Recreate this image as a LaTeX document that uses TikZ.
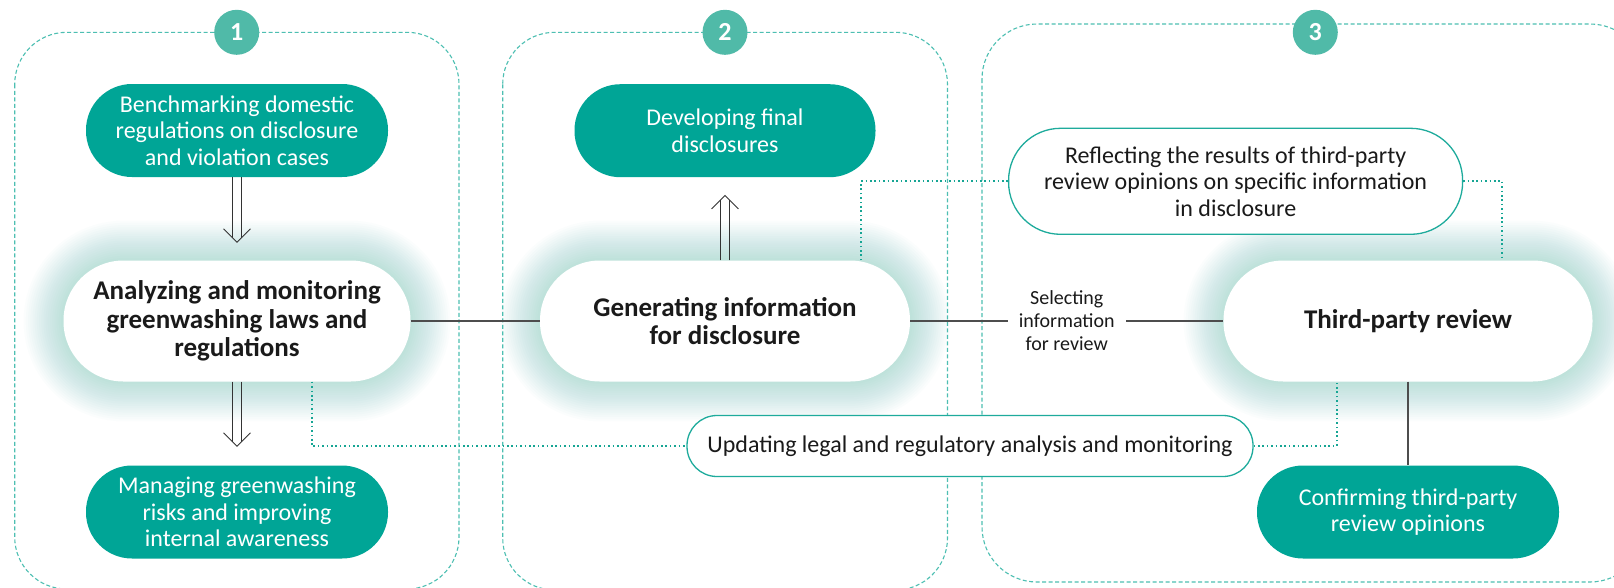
\documentclass[tikz,border=0pt]{standalone}
\usepackage{fontspec}
\setmainfont{Carlito}
\usetikzlibrary{calc}
\definecolor{tealc}{HTML}{00A596}
\definecolor{badgec}{HTML}{50BAA8}
\definecolor{panelc}{HTML}{4DBFB2}
\definecolor{outc}{HTML}{1EAB9C}
\definecolor{dotc}{HTML}{16A594}
\definecolor{glowc}{HTML}{1AAA9A}
\definecolor{linec}{HTML}{4D4D4D}
\definecolor{txt}{HTML}{1A1A1A}
\pgfdeclarelayer{bg}
\pgfdeclarelayer{glowlayer}
\pgfsetlayers{bg,glowlayer,main}
\tikzset{
  panel/.style={draw=panelc, dash pattern=on 4pt off 2.5pt, line width=1.1pt, rounded corners=52pt},
  badge/.style={circle, fill=badgec, minimum size=45pt, inner sep=0pt, text=white, font=\bfseries\fontsize{26}{26}\selectfont},
  tealbox/.style={fill=tealc, text=white, rounded corners=46pt, minimum width=302pt, minimum height=93pt, align=center, inner sep=0pt, font=\fontsize{24}{26.3}\selectfont},
  mainbox/.style={fill=white, rounded corners=60pt, minimum height=121pt, align=center, inner sep=0pt, text=txt, font=\bfseries\fontsize{27}{28.5}\selectfont},
  outbox/.style={draw=outc, line width=1.3pt, fill=white, align=center, inner sep=0pt, text=txt, font=\fontsize{24}{26.5}\selectfont},
  conn/.style={draw=linec, line width=1.2pt},
  dotline/.style={draw=dotc, line width=1.8pt, dash pattern=on 1.6pt off 2.8pt},
  dblline/.style={draw=black!80, line width=0.9pt},
  lbl/.style={fill=white, align=center, inner xsep=11pt, inner ysep=2pt, text=txt, font=\fontsize{20}{23}\selectfont}
}
\newcommand{\glowaround}[2]{%
  \begin{pgfonlayer}{glowlayer}
  \foreach \i in {1,...,18}{
    \pgfmathsetmacro{\rr}{#2+\i*2.2}
    \pgfmathsetmacro{\dd}{\i*2.2}
    \fill[glowc, opacity=0.017, rounded corners=\rr pt, yshift=-4pt]
      ([shift={(-\dd pt,-\dd pt)}]#1.south west) rectangle ([shift={(\dd pt,\dd pt)}]#1.north east);
  }
  \end{pgfonlayer}}
\newcommand{\dbldown}[2]{%
  \draw[dblline] ([xshift=-4.6pt]#1) -- ([xshift=-4.6pt,yshift=4.6pt]#2);
  \draw[dblline] ([xshift=4.6pt]#1) -- ([xshift=4.6pt,yshift=4.6pt]#2);
  \draw[dblline] ([xshift=-13.5pt,yshift=13.5pt]#2) -- (#2) -- ([xshift=13.5pt,yshift=13.5pt]#2);}
\newcommand{\dblup}[2]{%
  \draw[dblline] ([xshift=-4.6pt]#1) -- ([xshift=-4.6pt,yshift=-4.6pt]#2);
  \draw[dblline] ([xshift=4.6pt]#1) -- ([xshift=4.6pt,yshift=-4.6pt]#2);
  \draw[dblline] ([xshift=-13.5pt,yshift=-13.5pt]#2) -- (#2) -- ([xshift=13.5pt,yshift=-13.5pt]#2);}
\begin{document}
\begin{tikzpicture}[x=1pt,y=-1pt]
\useasboundingbox (0,0) rectangle (1614,587);
% panels
\begin{pgfonlayer}{bg}
\fill[white] (0,0) rectangle (1614,587);
\draw[panel] (14.7,32.3) rectangle (459,589);
\draw[panel] (502.7,32.3) rectangle (947.5,590);
\draw[panel, rounded corners=55pt] (982,24) rectangle (1645,582);
\end{pgfonlayer}
% nodes
\node[tealbox] (bench) at (237,130.5) {Benchmarking domestic\\regulations on disclosure\\and violation cases};
\node[mainbox, minimum width=347pt] (ana) at (237,321) {Analyzing and monitoring\\greenwashing laws and\\regulations};
\node[tealbox] (manage) at (237,512) {Managing greenwashing\\risks and improving\\internal awareness};
\node[tealbox, minimum width=301pt] (dev) at (725,130.7) {Developing final\\disclosures};
\node[mainbox, minimum width=370pt] (gen) at (725,321) {Generating information\\for disclosure};
\node[outbox, rounded corners=30pt, minimum width=566pt, minimum height=61pt] (upd) at (970,446) {Updating legal and regulatory analysis and monitoring};
\node[outbox, rounded corners=52pt, minimum width=454pt, minimum height=106pt] (refl) at (1235.6,181.3) {Reflecting the results of third-party\\review opinions on specific information\\in disclosure};
\node[mainbox, minimum width=369pt] (tpr) at (1408,321) {Third-party review};
\node[tealbox] (conf) at (1408,512) {Confirming third-party\\review opinions};
% badges
\node[badge] (b1) at (236.7,32.3) {1};
\node[badge] (b2) at (725,32.3) {2};
\node[badge] (b3) at (1315.3,32.3) {3};
% glows
\glowaround{ana}{60}
\glowaround{gen}{60}
\glowaround{tpr}{60}
% connectors
\draw[conn] (ana.east) -- (gen.west);
\draw[conn] (gen.east) -- node[lbl] (sel) {Selecting\\information\\for review} (tpr.west);
\draw[conn] (tpr.south) -- (conf.north);
\draw[dotline] ([xshift=74.7pt]ana.south) |- (upd.west);
\draw[dotline] (upd.east) -| ([xshift=-71pt]tpr.south);
\draw[dotline] ([xshift=136pt]gen.north) |- (refl.west);
\draw[dotline] (refl.east) -| ([xshift=94.3pt]tpr.north);
% double arrows
\coordinate (t1) at ([yshift=18pt]ana.north);
\coordinate (t2) at ([yshift=19pt]manage.north);
\coordinate (t3) at ([yshift=-18pt]dev.south);
\dbldown{bench.south}{t1}
\dbldown{ana.south}{t2}
\dblup{gen.north}{t3}
\end{tikzpicture}
\end{document}
